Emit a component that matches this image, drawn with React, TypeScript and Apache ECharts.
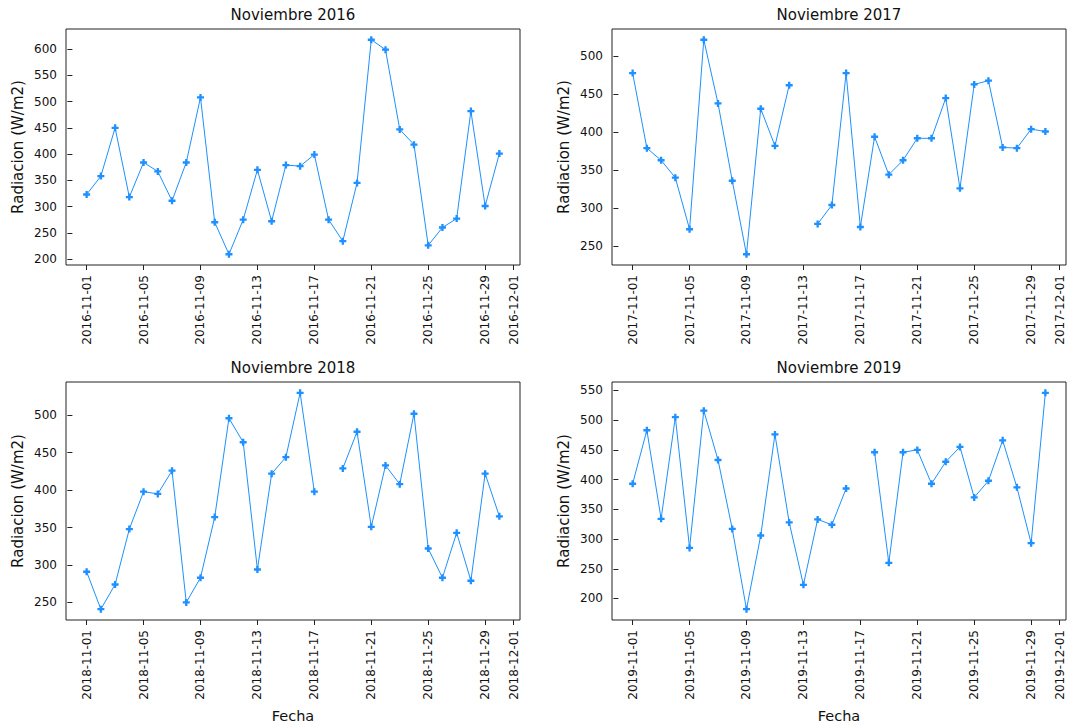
import React, { useEffect, useRef } from "react";
import * as echarts from "echarts";

const years = ["2016", "2017", "2018", "2019"];
const days = [1, 2, 3, 4, 5, 6, 7, 8, 9, 10, 11, 12, 13, 14, 15, 16, 17, 18, 19, 20, 21, 22, 23, 24, 25, 26, 27, 28, 29, 30];

const rad2016 = [323, 358, 450, 318, 384, 367, 311, 384, 508, 270, 209, 275, 370, 272, 379, 377, 399, 275, 234, 345, 618, 599, 447, 418, 226, 260, 277, 482, 301, 401];
const rad2017 = [478, 379, 363, 340, 272, 522, 438, 336, 239, 431, 382, 462, null, 279, 304, 478, 275, 394, 344, 363, 392, 392, 445, 326, 463, 468, 380, 379, 404, 401];
const rad2018 = [291, 241, 274, 348, 398, 395, 426, 250, 283, 364, 496, 464, 294, 422, 444, 530, 398, null, 429, 478, 351, 433, 408, 502, 322, 283, 343, 279, 422, 365];
const rad2019 = [393, 483, 334, 505, 285, 516, 433, 317, 182, 306, 476, 328, 223, 333, 324, 385, null, 446, 260, 446, 450, 393, 430, 455, 370, 398, 466, 387, 293, 546];

const xTickDays = [1, 5, 9, 13, 17, 21, 25, 29, 31];
const xTickLabels = ["11-01", "11-05", "11-09", "11-13", "11-17", "11-21", "11-25", "11-29", "12-01"];

const yTicks2016 = [200, 250, 300, 350, 400, 450, 500, 550, 600];
const yTicks2017 = [250, 300, 350, 400, 450, 500];
const yTicks2018 = [250, 300, 350, 400, 450, 500];
const yTicks2019 = [200, 250, 300, 350, 400, 450, 500, 550];

const allSeries = [rad2016, rad2017, rad2018, rad2019];
const allYTicks = [yTicks2016, yTicks2017, yTicks2018, yTicks2019];

const FONT = "DejaVu Sans";
const COLOR = "#1E90FF";

const grids = [
  { left: 66, top: 29, width: 454, height: 236 },
  { left: 612, top: 29, width: 454, height: 236 },
  { left: 66, top: 382, width: 454, height: 238 },
  { left: 612, top: 382, width: 454, height: 238 },
];

const PLUS = "path://M1,0L2,0L2,1L3,1L3,2L2,2L2,3L1,3L1,2L0,2L0,1L1,1Z";

export default function App() {
  const ref = useRef<HTMLDivElement>(null);

  useEffect(() => {
    if (!ref.current) return;
    const chart = echarts.init(ref.current, undefined, { renderer: "svg" });

    const xMin = days[0] - 0.05 * (days[days.length - 1] - days[0]);
    const xMax = days[days.length - 1] + 0.05 * (days[days.length - 1] - days[0]);

    const title: any[] = [];
    const grid: any[] = [];
    const xAxis: any[] = [];
    const yAxis: any[] = [];
    const series: any[] = [];

    years.forEach((yr, i) => {
      const g = grids[i];
      const vals = allSeries[i].filter((v) => v != null) as number[];
      const dMin = Math.min(...vals);
      const dMax = Math.max(...vals);
      const pad = 0.05 * (dMax - dMin);
      grid.push({
        left: g.left,
        top: g.top,
        width: g.width,
        height: g.height,
        show: true,
        borderColor: "#222",
        borderWidth: 1,
        backgroundColor: "transparent",
        containLabel: false,
      });
      title.push({
        text: "Noviembre " + yr,
        left: g.left + g.width / 2,
        top: 7 + (i >= 2 ? 353 : 0),
        textAlign: "center",
        padding: 0,
        textStyle: { fontFamily: FONT, fontSize: 15, fontWeight: "normal", color: "#111" },
      });
      xAxis.push({
        type: "value",
        gridIndex: i,
        min: xMin,
        max: xMax,
        axisLine: { show: false },
        splitLine: { show: false },
        axisTick: { show: true, length: 5, lineStyle: { color: "#222" }, customValues: xTickDays },
        axisLabel: {
          customValues: xTickDays,
          rotate: 90,
          margin: 10,
          fontFamily: FONT,
          fontSize: 12,
          color: "#111",
          formatter: (v: number) => {
            const k = xTickDays.indexOf(Math.round(v));
            return k >= 0 ? yr + "-" + xTickLabels[k] : "";
          },
        },
        name: i >= 2 ? "Fecha" : "",
        nameLocation: "middle",
        nameGap: 88,
        nameTextStyle: { fontFamily: FONT, fontSize: 14.5, color: "#111" },
      });
      yAxis.push({
        type: "value",
        gridIndex: i,
        min: dMin - pad,
        max: dMax + pad,
        axisLine: { show: false },
        splitLine: { show: false },
        axisTick: { show: true, length: 5, lineStyle: { color: "#222" }, customValues: allYTicks[i] },
        axisLabel: {
          customValues: allYTicks[i],
          margin: 9,
          fontFamily: FONT,
          fontSize: 12,
          color: "#111",
        },
        name: "Radiacion (W/m2)",
        nameLocation: "middle",
        nameRotate: 90,
        nameGap: 41,
        nameTextStyle: { fontFamily: FONT, fontSize: 15, color: "#111" },
      });
      series.push({
        type: "line",
        xAxisIndex: i,
        yAxisIndex: i,
        data: days.map((d, k) => [d, allSeries[i][k] == null ? "-" : allSeries[i][k]]),
        connectNulls: false,
        symbol: PLUS,
        symbolSize: 7,
        showSymbol: true,
        lineStyle: { color: COLOR, width: 1 },
        itemStyle: { color: COLOR },
      });
    });

    chart.setOption({
      animation: false,
      backgroundColor: "#fff",
      textStyle: { fontFamily: FONT },
      title,
      grid,
      xAxis,
      yAxis,
      series,
    });

    return () => chart.dispose();
  }, []);

  return (
    <div
      ref={ref}
      style={{ position: "absolute", left: 0, top: 0, width: 1069, height: 725 }}
    />
  );
}
